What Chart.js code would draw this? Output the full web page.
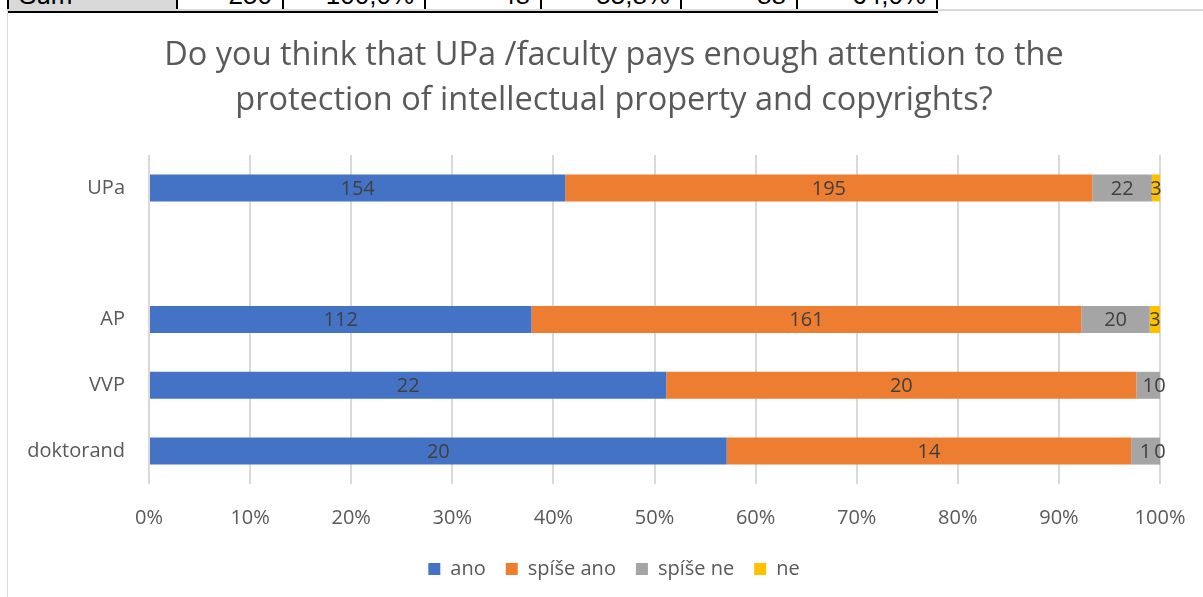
<!DOCTYPE html>
<html>
<head>
<meta charset="utf-8">
<script src="https://cdn.jsdelivr.net/npm/chart.js@4.4.1/dist/chart.umd.min.js"></script>
<style>
body { margin: 0; width: 1203px; height: 597px; overflow: hidden; background: #fff; position: relative; }
#sheet { position: absolute; left: 7px; top: -22px; width: 929px; border-collapse: collapse; table-layout: fixed; font-family: "Liberation Sans", Arial, sans-serif; font-size: 26px; }
#sheet td { box-sizing: border-box; height: 29px; border: 2px solid #000; padding: 0 10px 0 0; text-align: right; overflow: hidden; white-space: nowrap; }
#sheet td.lab { background: #d9d9d9; text-align: left; padding-left: 10px; }
#frame { position: absolute; left: 7px; top: 9px; width: 1300px; height: 700px; border-left: 1px solid #d9d9d9; border-top: 2px solid #d9d9d9; }
#wrap { position: absolute; left: 8px; top: 10px; width: 1212px; height: 587px; }
</style>
</head>
<body>
<table id="sheet">
  <colgroup>
    <col style="width:169px"><col style="width:106px"><col style="width:142px"><col style="width:116px">
    <col style="width:140px"><col style="width:116px"><col style="width:140px">
  </colgroup>
  <tr>
    <td class="lab">Sum</td>
    <td>250</td>
    <td>100,0%</td>
    <td>48</td>
    <td>55,8%</td>
    <td>88</td>
    <td>64,0%</td>
  </tr>
</table>
<div id="frame"></div>
<div id="wrap"><canvas id="chart"></canvas></div>
<script>
const categories = ['UPa', '', 'AP', 'VVP', 'doktorand'];
const ano = [154, null, 112, 22, 20];
const spiseAno = [195, null, 161, 20, 14];
const spiseNe = [22, null, 20, 1, 1];
const ne = [3, null, 3, 0, 0];
const seriesNames = ['ano', 'spíše ano', 'spíše ne', 'ne'];
const seriesColors = ['#4472C4', '#ED7D31', '#A5A5A5', '#FFC000'];
const titleLines = ['Do you think that UPa /faculty pays enough attention to the', 'protection of intellectual property and copyrights?'];

const allSeries = [ano, spiseAno, spiseNe, ne];
const totals = categories.map((c, i) => allSeries.reduce((acc, s) => acc + (s[i] || 0), 0));

function toPercent(values) {
    return values.map((v, i) => v === null ? null : v / totals[i] * 100);
}

const font = '"Open Sans", sans-serif';

// Excel style value labels in the middle of each segment
const valueLabels = {
    id: 'valueLabels',
    afterDatasetsDraw(chart) {
        const ctx = chart.ctx;
        ctx.save();
        ctx.font = '20px ' + font;
        ctx.fillStyle = '#404040';
        ctx.textAlign = 'center';
        ctx.textBaseline = 'middle';
        chart.data.datasets.forEach((ds, i) => {
            chart.getDatasetMeta(i).data.forEach((bar, j) => {
                const v = ds.counts[j];
                if (v === null) return;
                ctx.fillText(v, (bar.x + bar.base) / 2, bar.y + 1);
            });
        });
        ctx.restore();
    }
};

new Chart(document.getElementById('chart'), {
    type: 'bar',
    data: {
        labels: categories,
        datasets: allSeries.map((s, i) => ({
            label: seriesNames[i],
            data: toPercent(s),
            counts: s,
            backgroundColor: seriesColors[i],
            borderWidth: 0,
            categoryPercentage: 1,
            barPercentage: 0.41
        }))
    },
    options: {
        indexAxis: 'y',
        responsive: true,
        maintainAspectRatio: false,
        animation: false,
        layout: { padding: { left: 60, right: 60, top: 0, bottom: 8 } },
        scales: {
            x: {
                stacked: true,
                min: 0,
                max: 100,
                ticks: {
                    stepSize: 10,
                    padding: 22,
                    color: '#595959',
                    font: { family: font, size: 20 },
                    callback: v => v + '%'
                },
                grid: { color: '#d9d9d9', lineWidth: 2, drawTicks: false },
                border: { display: false },
                afterFit: axis => { axis.height = 55; }
            },
            y: {
                stacked: true,
                ticks: {
                    padding: 24,
                    color: '#595959',
                    font: { family: font, size: 20 }
                },
                grid: { display: false, drawTicks: false },
                border: { display: false },
                afterFit: axis => {
                    axis.width = 81;
                    // let long labels run into the left padding instead of being clipped
                    axis._computeLabelArea = () => null;
                }
            }
        },
        plugins: {
            title: {
                display: true,
                text: titleLines,
                color: '#595959',
                font: { family: font, size: 32.5, weight: 'normal', lineHeight: 1.385 },
                padding: { top: 23, bottom: 32 }
            },
            legend: {
                position: 'bottom',
                labels: {
                    boxWidth: 12,
                    boxHeight: 12,
                    padding: 20,
                    color: '#595959',
                    font: { family: font, size: 20 }
                }
            },
            tooltip: { enabled: false }
        }
    },
    plugins: [valueLabels]
});
</script>
</body>
</html>
